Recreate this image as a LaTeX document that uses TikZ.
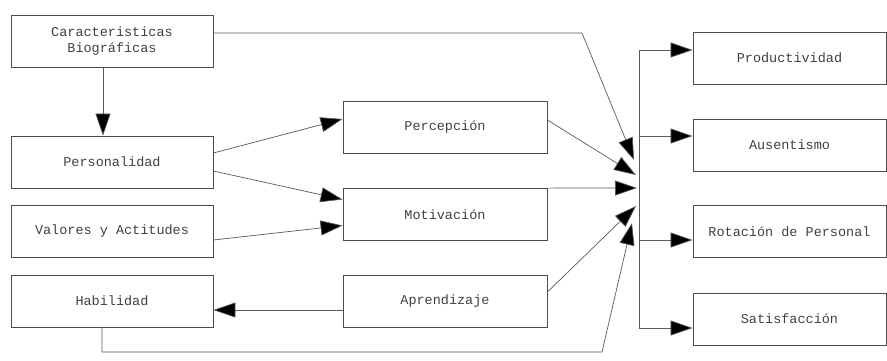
\documentclass[tikz,border=0pt]{standalone}
\usepackage{fontspec}
\setmonofont{Liberation Mono}
\usetikzlibrary{arrows.meta}
\begin{document}
\begin{tikzpicture}[x=1pt,y=-1pt,
  caja/.style={draw=black!70,line width=0.8pt,minimum height=52pt,inner sep=0pt,
    font=\ttfamily\fontsize{13.5}{16}\selectfont,text=black!75,align=center},
  flecha/.style={draw=black!65,line width=0.7pt,-{Triangle[length=22pt,width=15pt,fill=black]}},
  linea/.style={draw=black!65,line width=0.7pt}]
  \useasboundingbox (0,0) rectangle (887,360);

  % columna izquierda
  \node[caja,minimum width=202pt] (bio) at (112,41) {Caracteristicas\\Biográficas};
  \node[caja,minimum width=202pt] (pers) at (112,162) {Personalidad};
  \node[caja,minimum width=202pt] (val) at (112,231) {Valores y Actitudes};
  \node[caja,minimum width=202pt] (hab) at (112,301) {Habilidad};

  % columna central
  \node[caja,minimum width=204pt] (perc) at (445,127.5) {Percepción};
  \node[caja,minimum width=204pt] (mot) at (445,214.5) {Motivación};
  \node[caja,minimum width=204pt] (apr) at (445,301) {Aprendizaje};

  % resultados
  \node[caja,minimum width=193pt] (prod) at (789.5,58) {Productividad};
  \node[caja,minimum width=193pt] (aus) at (789.5,145) {Ausentismo};
  \node[caja,minimum width=193pt] (rot) at (789.5,231.5) {Rotación de Personal};
  \node[caja,minimum width=193pt] (sat) at (789.5,319) {Satisfacción};

  % puntos de llegada
  \coordinate (h1) at (634,160);
  \coordinate (h2) at (636,175);
  \coordinate (h3) at (637,188);
  \coordinate (h4) at (636,206);
  \coordinate (h5) at (632,223);
  \coordinate (codo) at (582,33);
  \coordinate (bajo) at (602,352);

  \draw[flecha] ([xshift=-9pt]bio.south) -- ([xshift=-9pt]pers.north);
  \draw[flecha] ([yshift=9pt]pers.east) -- ([yshift=8.5pt]perc.west);
  \draw[flecha] ([yshift=-9pt]pers.east) -- ([yshift=15pt]mot.west);
  \draw[flecha] ([yshift=-9pt]val.east) -- ([yshift=-11pt]mot.west);
  \draw[flecha] ([yshift=-9pt]apr.west) -- ([yshift=-9pt]hab.east);

  \draw[flecha] ([yshift=8pt]bio.east) -- (codo) -- (h1);
  \draw[flecha] ([yshift=7.5pt]perc.east) -- (h2);
  \draw[flecha] (mot.north east) -- (h3);
  \draw[flecha] ([yshift=9pt]apr.east) -- (h4);
  \draw[flecha] ([xshift=-10pt]hab.south) |- (bajo) -- (h5);

  % salida
  \coordinate (s1) at (639,50);
  \coordinate (s4) at (639,328);
  \draw[linea] (s1) -- (s4);
  \draw[flecha] (s1) -- (s1 -| prod.west);
  \draw[flecha] (639,136) -- (639,136 -| aus.west);
  \draw[flecha] (639,240) -- (639,240 -| rot.west);
  \draw[flecha] (s4) -- (s4 -| sat.west);
\end{tikzpicture}
\end{document}
